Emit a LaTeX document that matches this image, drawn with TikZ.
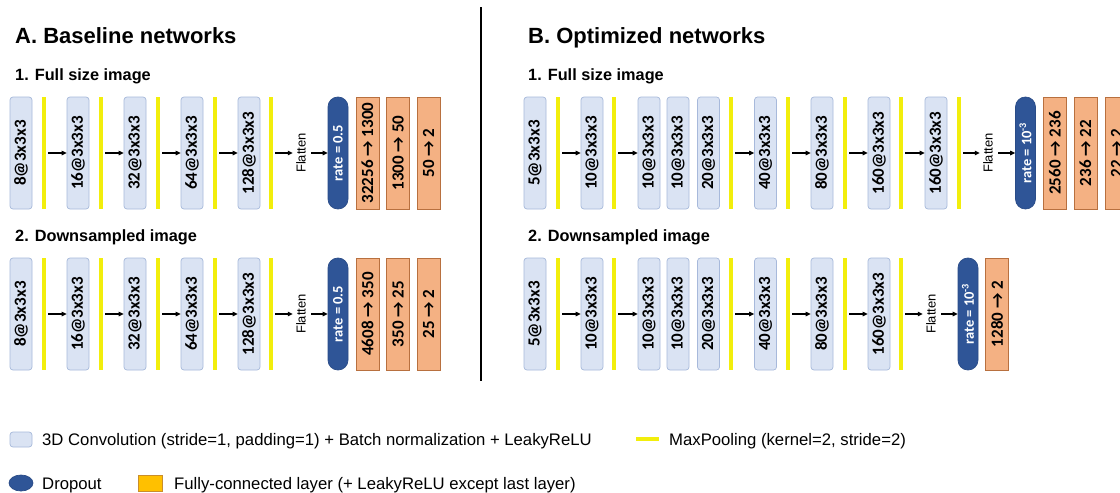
\documentclass[tikz,border=0pt]{standalone}
\usepackage{fontspec}
\setmainfont{Liberation Sans}
\newfontfamily\boxfont{Carlito}
\usetikzlibrary{arrows.meta,shapes.geometric}
\definecolor{convfill}{HTML}{DAE3F3}
\definecolor{convdraw}{HTML}{A7B9DB}
\definecolor{poolc}{HTML}{F2EE0C}
\definecolor{dropc}{HTML}{2F5597}
\definecolor{dropd}{HTML}{2A4C88}
\definecolor{fcfill}{HTML}{F4B183}
\definecolor{fcdraw}{HTML}{B8703F}
\definecolor{fclegfill}{HTML}{FFC000}
\definecolor{fclegdraw}{HTML}{C98E2B}
\begin{document}
\begin{tikzpicture}[x=1pt,y=-1pt,
 conv/.style={draw=convdraw, line width=0.7pt, fill=convfill, rounded corners=3pt, rotate=90, minimum width=112pt, minimum height=22pt, inner sep=0pt, font=\boxfont\bfseries\fontsize{17}{18}\selectfont},
 pool/.style={fill=poolc, minimum width=4pt, minimum height=112pt, inner sep=0pt},
 drop/.style={draw=dropd, line width=0.7pt, fill=dropc, rounded corners=9.9pt, rotate=90, minimum width=112pt, minimum height=20pt, inner sep=0pt, text=white, font=\boxfont\bfseries\fontsize{14.5}{16}\selectfont},
 fc/.style={draw=fcdraw, line width=0.7pt, fill=fcfill, rotate=90, minimum width=112pt, minimum height=23pt, inner sep=0pt, font=\boxfont\bfseries\fontsize{17}{18}\selectfont},
 flat/.style={rotate=90, inner sep=0pt, minimum height=16pt, font=\fontsize{13}{14}\selectfont},
 arr/.style={-{Triangle[length=5pt,width=4.5pt]}, line width=1.1pt, shorten <=2pt},
 title/.style={anchor=base west, inner sep=0pt, font=\bfseries\fontsize{22}{26}\selectfont},
 subtitle/.style={anchor=base west, inner sep=0pt, font=\bfseries\fontsize{16.3}{18}\selectfont},
 legtext/.style={anchor=base west, inner sep=0pt, font=\fontsize{16.7}{18}\selectfont}
]
\useasboundingbox (0,0) rectangle (1120,493);
\clip (0,0) rectangle (1120,493);
\fill[white] (0,0) rectangle (1120,493);

% titles
\node[title] (tA) at (15,43) {A. Baseline networks};
\node[title] (tB) at (528,43) {B. Optimized networks};
\node[subtitle] (sA1) at (15,80) {1. Full size image};
\node[subtitle] (sA2) at (15,241) {2. Downsampled image};
\node[subtitle] (sB1) at (528,80) {1. Full size image};
\node[subtitle] (sB2) at (528,241) {2. Downsampled image};
\coordinate (sepT) at (481,7);
\coordinate (sepB) at (481,381);
\draw[line width=2.5pt] (sepT) -- (sepB);

% ---------- A, row 1
\node[conv] (a1) at (21,153) {8@3x3x3};
\node[pool] (ap1) at (44,153) {};
\node[conv] (a2) at (78,153) {16@3x3x3};
\node[pool] (ap2) at (101,153) {};
\node[conv] (a3) at (135,153) {32@3x3x3};
\node[pool] (ap3) at (158,153) {};
\node[conv] (a4) at (192,153) {64@3x3x3};
\node[pool] (ap4) at (215,153) {};
\node[conv] (a5) at (249,153) {128@3x3x3};
\node[pool] (ap5) at (271,153) {};
\node[flat] (afl) at (301,153) {Flatten};
\node[drop] (ad) at (338,153) {rate = 0.5};
\node[fc] (af1) at (367.5,153) {32256 → 1300};
\node[fc] (af2) at (398,153) {1300 → 50};
\node[fc] (af3) at (428.5,153) {50 → 2};
\draw[arr] (ap1) -- (a2);
\draw[arr] (ap2) -- (a3);
\draw[arr] (ap3) -- (a4);
\draw[arr] (ap4) -- (a5);
\draw[arr] (ap5) -- (afl);
\draw[arr] (afl) -- (ad);

% ---------- A, row 2
\node[conv] (b1) at (21,314) {8@3x3x3};
\node[pool] (bp1) at (44,314) {};
\node[conv] (b2) at (78,314) {16@3x3x3};
\node[pool] (bp2) at (101,314) {};
\node[conv] (b3) at (135,314) {32@3x3x3};
\node[pool] (bp3) at (158,314) {};
\node[conv] (b4) at (192,314) {64@3x3x3};
\node[pool] (bp4) at (215,314) {};
\node[conv] (b5) at (249,314) {128@3x3x3};
\node[pool] (bp5) at (271,314) {};
\node[flat] (bfl) at (301,314) {Flatten};
\node[drop] (bd) at (338,314) {rate = 0.5};
\node[fc] (bf1) at (367.5,314) {4608 → 350};
\node[fc] (bf2) at (398,314) {350 → 25};
\node[fc] (bf3) at (428.5,314) {25 → 2};
\draw[arr] (bp1) -- (b2);
\draw[arr] (bp2) -- (b3);
\draw[arr] (bp3) -- (b4);
\draw[arr] (bp4) -- (b5);
\draw[arr] (bp5) -- (bfl);
\draw[arr] (bfl) -- (bd);

% ---------- B, row 1
\node[conv] (c1) at (535,153) {5@3x3x3};
\node[pool] (cp1) at (558,153) {};
\node[conv] (c2) at (592,153) {10@3x3x3};
\node[pool] (cp2) at (614,153) {};
\node[conv] (c3) at (649,153) {10@3x3x3};
\node[conv] (c4) at (678,153) {10@3x3x3};
\node[conv] (c5) at (708.5,153) {20@3x3x3};
\node[pool] (cp3) at (731,153) {};
\node[conv] (c6) at (765.5,153) {40@3x3x3};
\node[pool] (cp4) at (788,153) {};
\node[conv] (c7) at (822,153) {80@3x3x3};
\node[pool] (cp5) at (845,153) {};
\node[conv] (c8) at (879,153) {160@3x3x3};
\node[pool] (cp6) at (901,153) {};
\node[conv] (c9) at (936,153) {160@3x3x3};
\node[pool] (cp7) at (959,153) {};
\node[flat] (cfl) at (988,153) {Flatten};
\node[drop] (cd) at (1025.5,153) {rate = 10\textsuperscript{-3}};
\node[fc] (cf1) at (1055,153) {2560 → 236};
\node[fc] (cf2) at (1085.5,153) {236 → 22};
\node[fc] (cf3) at (1116.5,153) {22 → 2};
\draw[arr] (cp1) -- (c2);
\draw[arr] (cp2) -- (c3);
\draw[arr] (cp3) -- (c6);
\draw[arr] (cp4) -- (c7);
\draw[arr] (cp5) -- (c8);
\draw[arr] (cp6) -- (c9);
\draw[arr] (cp7) -- (cfl);
\draw[arr] (cfl) -- (cd);

% ---------- B, row 2
\node[conv] (d1) at (535,314) {5@3x3x3};
\node[pool] (dp1) at (558,314) {};
\node[conv] (d2) at (592,314) {10@3x3x3};
\node[pool] (dp2) at (614,314) {};
\node[conv] (d3) at (649,314) {10@3x3x3};
\node[conv] (d4) at (678,314) {10@3x3x3};
\node[conv] (d5) at (708.5,314) {20@3x3x3};
\node[pool] (dp3) at (731,314) {};
\node[conv] (d6) at (765.5,314) {40@3x3x3};
\node[pool] (dp4) at (788,314) {};
\node[conv] (d7) at (822,314) {80@3x3x3};
\node[pool] (dp5) at (845,314) {};
\node[conv] (d8) at (879,314) {160@3x3x3};
\node[pool] (dp6) at (901,314) {};
\node[flat] (dfl) at (931,314) {Flatten};
\node[drop] (dd) at (968,314) {rate = 10\textsuperscript{-3}};
\node[fc] (df1) at (997,314) {1280 → 2};
\draw[arr] (dp1) -- (d2);
\draw[arr] (dp2) -- (d3);
\draw[arr] (dp3) -- (d6);
\draw[arr] (dp4) -- (d7);
\draw[arr] (dp5) -- (d8);
\draw[arr] (dp6) -- (dfl);
\draw[arr] (dfl) -- (dd);

% ---------- legend
\node[draw=convdraw, line width=0.7pt, fill=convfill, rounded corners=3pt, minimum width=22pt, minimum height=15pt, inner sep=0pt] (lc) at (21,439.5) {};
\node[legtext] (lct) at (42,445.5) {3D Convolution (stride=1, padding=1) + Batch normalization + LeakyReLU};
\node[fill=poolc, minimum width=23pt, minimum height=4pt, inner sep=0pt] (lp) at (647.5,438.5) {};
\node[legtext] (lpt) at (669,445.5) {MaxPooling (kernel=2, stride=2)};
\node[ellipse, draw=dropd, line width=0.7pt, fill=dropc, minimum width=24pt, minimum height=16pt, inner sep=0pt] (ld) at (21,483) {};
\node[legtext] (ldt) at (42,489) {Dropout};
\node[draw=fclegdraw, line width=0.7pt, fill=fclegfill, minimum width=24pt, minimum height=16pt, inner sep=0pt] (lf) at (150,483) {};
\node[legtext] (lft) at (174,489) {Fully-connected layer (+ LeakyReLU except last layer)};
\end{tikzpicture}
\end{document}
